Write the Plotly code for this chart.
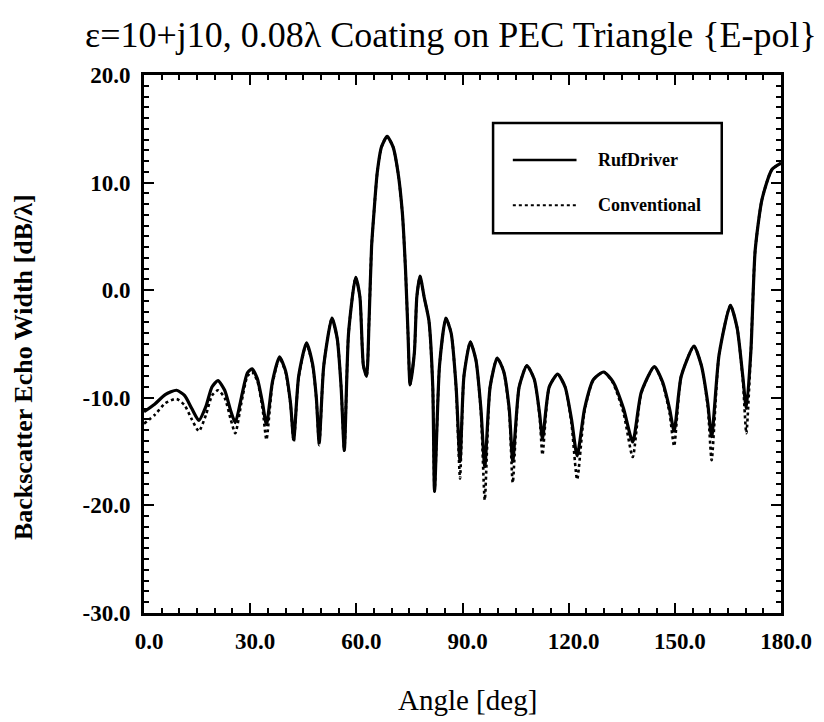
import plotly.graph_objects as go

# angle samples (deg)
angle = [0, 3, 6, 9.2, 11.5, 13.5, 15.5, 17.5, 19.2, 20.9, 22.8, 24.5, 25.8,
         27.5, 29.2, 30.5, 32, 33.5, 34.6, 36.3, 38.3, 40, 41.4, 42.3, 43.7,
         45.9, 47.6, 48.7, 49.5, 50.8, 53.1, 54.6, 55.7, 56.6, 57.8, 59.8, 61,
         62, 62.9, 63.6, 64.3, 65.0, 65.9, 67.1, 68.7, 70.4, 71.8, 73.0, 73.9,
         74.6, 75.2, 76.4, 77.1, 78, 79.2, 80.5, 81.6, 82.1, 83.5, 85.3, 86.8,
         88.2, 89.3, 90.4, 92.2, 93.8, 95.2, 96.3, 97.8, 99.8, 101.6, 103.2,
         104.2, 106, 108.2, 110.3, 111.8, 112.6, 114.5, 116.9, 119, 120.8,
         122.4, 124.5, 127, 129.9, 132.5, 135.5, 138.1, 140.5, 144.2, 146.5,
         148.5, 149.8, 151.8, 155.4, 157.5, 159.3, 160.4, 162.5, 165.7, 167.6,
         169.2, 170.2, 171.5, 172.7, 174.6, 177.4, 180]

ruf_driver = [-11.3, -10.6, -9.7, -9.3, -9.8, -11.0, -12.1, -10.8, -9.0, -8.4,
              -9.3, -11.2, -12.3, -10.0, -7.7, -7.3, -8.2, -10.5, -12.5, -8.5,
              -6.2, -7.5, -10.5, -13.9, -8.0, -4.9, -6.8, -10.0, -14.2, -7.0,
              -2.6, -4.5, -9.0, -14.9, -4.0, 1.2, -0.6, -7.0, -8.0, -2.8, 4.0,
              7.3, 10.9, 13.3, 14.3, 13.3, 10.9, 7.2, 1.9, -4.0, -8.8, -5.8,
              -0.6, 1.3, -0.7, -2.8, -9.0, -18.7, -7.0, -2.6, -4.0, -9.0, -15.9,
              -8.0, -4.8, -6.5, -11.0, -16.4, -9.0, -6.3, -7.5, -11.0, -15.9,
              -9.0, -7.0, -8.3, -11.5, -13.8, -9.0, -7.8, -9.0, -12.0, -15.4,
              -11.0, -8.3, -7.6, -8.5, -11.0, -14.1, -9.5, -7.1, -8.5, -11.0,
              -13.1, -8.0, -5.2, -7.0, -10.5, -13.6, -6.0, -1.4, -3.5, -8.0,
              -11.0, -5.6, 3.7, 8.4, 11.2, 11.8]

conventional = [-12.4, -11.6, -10.5, -10.1, -10.7, -12.0, -13.1, -11.6, -9.8,
                -9.3, -10.0, -12.0, -13.3, -10.5, -8.0, -7.6, -8.4, -11.0,
                -13.9, -8.7, -6.3, -7.6, -10.6, -14.1, -8.1, -5.0, -6.9, -10.1,
                -14.4, -7.0, -2.6, -4.5, -9.0, -14.9, -4.0, 1.2, -0.6, -7.0,
                -8.0, -2.8, 4.0, 7.3, 10.9, 13.3, 14.3, 13.3, 10.9, 7.2, 1.9,
                -4.0, -8.8, -5.8, -0.6, 1.3, -0.7, -2.8, -9.0, -18.7, -7.0,
                -2.6, -4.0, -9.2, -17.5, -8.0, -4.8, -6.5, -11.3, -19.5, -9.0,
                -6.3, -7.5, -11.3, -17.9, -9.0, -7.0, -8.3, -11.8, -15.3, -9.0,
                -7.8, -9.0, -12.4, -17.6, -11.2, -8.3, -7.6, -8.6, -11.4, -15.5,
                -9.6, -7.1, -8.6, -11.4, -14.5, -8.0, -5.2, -7.0, -10.8, -15.8,
                -6.0, -1.4, -3.5, -8.3, -13.3, -5.6, 3.7, 8.4, 11.2, 11.8]

x_ticks = [0, 30, 60, 90, 120, 150, 180]
x_labels = ["0.0", "30.0", "60.0", "90.0", "120.0", "150.0", "180.0"]
y_ticks = [-30, -20, -10, 0, 10, 20]
y_labels = ["-30.0", "-20.0", "-10.0", "0.0", "10.0", "20.0"]

serif = "Liberation Serif"

fig = go.Figure()
fig.add_trace(go.Scatter(
    x=angle, y=ruf_driver, mode="lines", name="RufDriver",
    line=dict(color="black", width=3.2, shape="spline", smoothing=0.6),
))
fig.add_trace(go.Scatter(
    x=angle, y=conventional, mode="lines", name="Conventional",
    line=dict(color="black", width=2.6, dash="3px,3px", shape="spline", smoothing=0.6),
))

axis_common = dict(
    showline=True, linecolor="black", linewidth=2.8, mirror="allticks",
    ticks="inside", ticklen=10, tickwidth=2, tickcolor="black",
    showgrid=False, zeroline=False,
    tickfont=dict(family=serif, size=23, color="black", weight="bold"),
)

fig.update_xaxes(
    range=[0, 180], tickvals=x_ticks, ticktext=x_labels,
    ticklabelstandoff=5, ticklabelshift=5,
    minor=dict(dtick=5, ticks="inside", ticklen=5, tickwidth=1.5, tickcolor="black"),
    **axis_common,
)
fig.update_yaxes(
    range=[-30, 20], tickvals=y_ticks, ticktext=y_labels, ticklabelstandoff=6,
    minor=dict(dtick=1, ticks="inside", ticklen=5, tickwidth=1.5, tickcolor="black"),
    **axis_common,
)

# legend drawn as a framed box like the original figure
legend_shapes = [
    dict(type="rect", xref="paper", yref="paper", x0=0.548, x1=0.907, y0=0.706, y1=0.911,
         line=dict(color="black", width=2.5), fillcolor="white"),
    dict(type="line", xref="paper", yref="paper", x0=0.579, x1=0.679, y0=0.842, y1=0.842,
         line=dict(color="black", width=2.5)),
    dict(type="line", xref="paper", yref="paper", x0=0.579, x1=0.679, y0=0.758, y1=0.758,
         line=dict(color="black", width=2, dash="3px,3px")),
]

legend_font = dict(family=serif, size=18, color="black", weight="bold")
annotations = [
    dict(text="RufDriver", x=0.710, y=0.842, xref="paper", yref="paper",
         xanchor="left", yanchor="middle", showarrow=False, font=legend_font),
    dict(text="Conventional", x=0.710, y=0.758, xref="paper", yref="paper",
         xanchor="left", yanchor="middle", showarrow=False, font=legend_font),
    dict(text="Angle [deg]", x=0.508, y=-0.162, xref="paper", yref="paper",
         xanchor="center", yanchor="middle", showarrow=False,
         font=dict(family=serif, size=29, color="black")),
    dict(text="Backscatter Echo Width [dB/λ]", textangle=-90,
         x=-0.19, y=0.457, xref="paper", yref="paper",
         xanchor="center", yanchor="middle", showarrow=False,
         font=dict(family=serif, size=26, color="black", weight="bold")),
]

# page body has an 8px margin, so the figure is sized to sit inside the window
fig.update_layout(
    width=816, height=714,
    margin=dict(l=136, r=38, t=67, b=109),
    paper_bgcolor="white", plot_bgcolor="white",
    showlegend=False,
    title=dict(text="ε=10+j10, 0.08λ Coating on PEC Triangle {E-pol}",
               x=443 / 816, xanchor="center", y=1 - 26 / 714, yanchor="middle",
               font=dict(family=serif, size=36, color="black")),
    shapes=legend_shapes,
    annotations=annotations,
)

fig.write_html("out.html")
